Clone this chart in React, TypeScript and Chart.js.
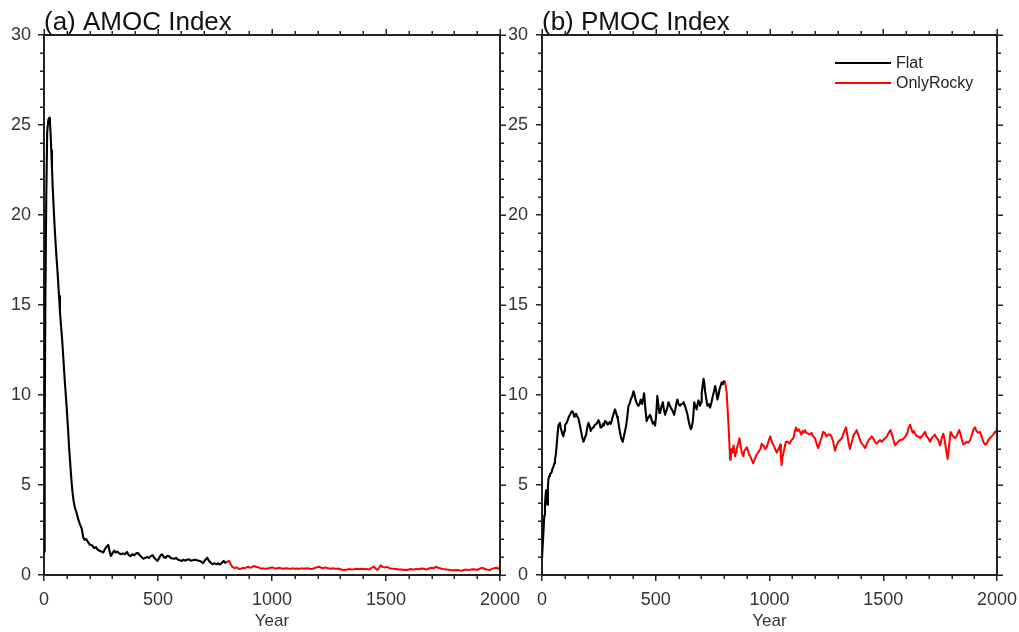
import React, { useEffect, useRef } from "react";
import { Chart, registerables } from "chart.js";

Chart.register(...registerables);

const FONT = "'Liberation Sans', Arial, Helvetica, sans-serif";
const AXIS = "#222222";
const TEXT = "#333333";

// ---- tick definitions ----
const xMajorTicks = [0, 500, 1000, 1500, 2000];
const xMinorTicks = [0, 100, 200, 300, 400, 500, 600, 700, 800, 900, 1000, 1100, 1200, 1300, 1400, 1500, 1600, 1700, 1800, 1900, 2000];
const yMajorTicks = [0, 5, 10, 15, 20, 25, 30];
const yMinorTicks = [0, 1, 2, 3, 4, 5, 6, 7, 8, 9, 10, 11, 12, 13, 14, 15, 16, 17, 18, 19, 20, 21, 22, 23, 24, 25, 26, 27, 28, 29, 30];

const seriesNames = ["Flat", "OnlyRocky"];
const seriesColors = ["#000000", "#ff0000"];
const panelTitles = ["(a) AMOC Index", "(b) PMOC Index"];

// ---- (a) AMOC, Flat ----
const amocFlatYears = [0, 3, 6, 10, 14, 19, 23, 26, 29, 32, 35, 38, 42, 46, 50, 54, 58, 62, 66, 70, 75, 80, 85, 90, 95, 100, 105, 110, 115, 120, 125, 130, 136, 142, 150, 158, 165, 172, 178, 185, 192, 200, 210, 220, 228, 236, 244, 252, 260, 268, 276, 282, 288, 293, 300, 308, 315, 322, 330, 338, 346, 355, 364, 372, 380, 388, 396, 404, 412, 420, 428, 436, 444, 452, 460, 468, 476, 484, 492, 498, 505, 512, 518, 525, 532, 540, 548, 556, 564, 572, 580, 588, 596, 604, 612, 620, 628, 636, 644, 652, 660, 668, 676, 684, 692, 698, 704, 710, 716, 722, 728, 734, 740, 746, 752, 758, 764, 770, 776, 782, 788, 794, 800];
const amocFlatValues = [1.3, 8, 15.3, 21, 24.6, 25.3, 25.4, 25.2, 24.5, 23.6, 22.6, 21.6, 20.5, 19.5, 18.6, 17.8, 17.1, 16.3, 15.5, 14.6, 13.8, 13, 12, 11, 10.1, 9.2, 8.2, 7.1, 6.2, 5.3, 4.6, 4.1, 3.7, 3.5, 3.1, 2.8, 2.6, 2.1, 1.95, 2.0, 1.85, 1.7, 1.65, 1.5, 1.55, 1.4, 1.35, 1.3, 1.25, 1.45, 1.6, 1.67, 1.3, 1.05, 1.2, 1.35, 1.25, 1.3, 1.2, 1.15, 1.2, 1.15, 1.28, 1.1, 1.05, 1.15, 1.1, 1.2, 1.22, 1.1, 1.0, 0.9, 0.95, 1.0, 0.95, 1.05, 1.1, 0.95, 0.85, 0.78, 0.95, 1.1, 1.15, 1.0, 0.95, 1.05, 1.05, 0.95, 0.92, 0.9, 0.95, 0.85, 0.82, 0.78, 0.85, 0.8, 0.85, 0.87, 0.8, 0.82, 0.85, 0.83, 0.8, 0.78, 0.72, 0.66, 0.78, 0.88, 0.96, 0.82, 0.72, 0.65, 0.6, 0.65, 0.62, 0.6, 0.65, 0.58, 0.62, 0.7, 0.78, 0.68, 0.72];

// ---- (a) AMOC, OnlyRocky ----
const amocRockyYears = [800, 806, 812, 818, 824, 830, 836, 842, 850, 858, 864, 872, 880, 888, 894, 900, 908, 916, 924, 932, 940, 948, 955, 962, 970, 978, 986, 994, 1002, 1010, 1020, 1030, 1040, 1050, 1060, 1070, 1080, 1090, 1100, 1110, 1121, 1130, 1140, 1150, 1160, 1170, 1180, 1190, 1200, 1208, 1216, 1225, 1235, 1245, 1258, 1268, 1280, 1290, 1300, 1310, 1318, 1328, 1338, 1348, 1360, 1370, 1380, 1394, 1405, 1415, 1425, 1435, 1447, 1455, 1462, 1470, 1477, 1485, 1495, 1505, 1515, 1525, 1535, 1545, 1555, 1565, 1575, 1583, 1591, 1600, 1610, 1620, 1632, 1645, 1655, 1667, 1677, 1688, 1700, 1710, 1720, 1728, 1738, 1748, 1758, 1768, 1780, 1790, 1800, 1810, 1820, 1833, 1842, 1852, 1862, 1872, 1882, 1892, 1900, 1910, 1924, 1934, 1944, 1955, 1965, 1975, 1985, 1993, 2000];
const amocRockyValues = [0.72, 0.75, 0.78, 0.62, 0.48, 0.42, 0.38, 0.42, 0.38, 0.33, 0.35, 0.4, 0.38, 0.42, 0.46, 0.43, 0.4, 0.47, 0.5, 0.44, 0.42, 0.38, 0.35, 0.37, 0.34, 0.36, 0.38, 0.4, 0.42, 0.38, 0.36, 0.4, 0.37, 0.35, 0.38, 0.36, 0.34, 0.37, 0.35, 0.36, 0.34, 0.37, 0.35, 0.38, 0.36, 0.33, 0.35, 0.4, 0.44, 0.46, 0.4, 0.38, 0.42, 0.37, 0.35, 0.38, 0.34, 0.36, 0.32, 0.29, 0.28, 0.3, 0.33, 0.3, 0.32, 0.35, 0.33, 0.35, 0.32, 0.34, 0.3, 0.38, 0.46, 0.35, 0.28, 0.4, 0.54, 0.45, 0.42, 0.45, 0.38, 0.36, 0.35, 0.33, 0.31, 0.3, 0.29, 0.28, 0.28, 0.31, 0.33, 0.3, 0.34, 0.32, 0.36, 0.35, 0.3, 0.36, 0.4, 0.38, 0.46, 0.4, 0.37, 0.33, 0.32, 0.3, 0.28, 0.27, 0.26, 0.28, 0.26, 0.24, 0.28, 0.3, 0.27, 0.3, 0.32, 0.3, 0.28, 0.35, 0.4, 0.33, 0.3, 0.27, 0.34, 0.38, 0.4, 0.34, 0.46];

// ---- (b) PMOC, Flat ----
const pmocFlatYears = [0, 6, 10, 13, 16, 18, 21, 23, 26, 28, 32, 35, 42, 46, 50, 54, 57, 61, 65, 69, 72, 76, 79, 82, 86, 90, 94, 98, 101, 105, 108, 113, 118, 123, 128, 133, 138, 141, 145, 150, 155, 160, 165, 170, 176, 182, 188, 194, 199, 204, 209, 214, 220, 226, 233, 240, 244, 248, 252, 257, 262, 268, 272, 277, 283, 288, 292, 298, 302, 306, 311, 316, 321, 326, 330, 333, 338, 343, 348, 355, 360, 365, 370, 375, 380, 385, 390, 396, 402, 407, 412, 418, 424, 429, 434, 440, 445, 449, 454, 460, 465, 470, 475, 480, 487, 492, 497, 502, 507, 512, 516, 519, 524, 531, 536, 541, 546, 551, 556, 562, 566, 570, 575, 581, 586, 590, 595, 600, 607, 612, 617, 622, 628, 633, 638, 644, 649, 654, 658, 663, 666, 669, 674, 680, 684, 688, 692, 695, 699, 702, 706, 710, 713, 717, 722, 727, 732, 739, 745, 751, 756, 761, 766, 771, 776, 780, 785, 790, 795, 800];
const pmocFlatValues = [0.93, 2.3, 3.3, 3.9, 4.5, 4.7, 4.3, 3.9, 4.9, 5.3, 5.5, 5.6, 5.7, 5.9, 6.0, 6.2, 6.4, 6.7, 7.3, 7.9, 8.3, 8.4, 8.45, 8.2, 8.0, 7.8, 7.7, 8.0, 8.3, 8.4, 8.45, 8.6, 8.8, 8.9, 9.05, 9.1, 9.0, 8.8, 8.9, 8.95, 8.8, 8.7, 8.4, 8.1, 7.7, 7.4, 7.6, 7.8, 8.2, 8.45, 8.3, 8.0, 8.15, 8.2, 8.35, 8.4, 8.5, 8.6, 8.5, 8.2, 8.2, 8.4, 8.3, 8.55, 8.5, 8.35, 8.4, 8.5, 8.4, 8.55, 8.8, 9.0, 9.2, 9.0, 8.8, 8.7, 8.3, 7.9, 7.6, 7.4, 7.7, 8.0, 8.3, 8.8, 9.4, 9.5, 9.75, 9.9, 10.2, 10.0, 9.7, 9.5, 9.4, 9.5, 9.75, 9.5, 9.8, 10.1, 9.3, 8.55, 8.7, 8.8, 8.9, 8.7, 8.4, 8.5, 8.3, 8.9, 9.95, 9.4, 9.0, 9.0, 9.3, 9.6, 9.2, 8.9, 9.1, 9.3, 9.6, 9.4, 9.3, 9.2, 9.1, 8.9, 9.2, 9.5, 9.75, 9.5, 9.4, 9.5, 9.5, 9.6, 9.4, 9.2, 9.0, 8.6, 8.3, 8.1, 8.2, 8.55, 9.0, 9.6, 9.4, 9.2, 9.5, 9.7, 9.6, 9.4, 9.6, 10.1, 10.5, 10.9, 10.7, 10.2, 9.8, 9.4, 9.5, 9.3, 9.6, 9.95, 10.2, 10.5, 10.2, 9.75, 10.0, 10.3, 10.5, 10.7, 10.6, 10.8];

// ---- (b) PMOC, OnlyRocky ----
const pmocRockyYears = [800, 805, 812, 816, 820, 824, 827, 830, 834, 838, 842, 846, 849, 853, 856, 862, 868, 873, 878, 885, 889, 895, 900, 906, 910, 915, 922, 928, 934, 940, 944, 950, 955, 960, 966, 970, 974, 980, 988, 995, 1003, 1010, 1018, 1025, 1032, 1040, 1047, 1050, 1053, 1058, 1065, 1072, 1080, 1088, 1097, 1105, 1110, 1116, 1122, 1128, 1134, 1140, 1145, 1150, 1156, 1162, 1170, 1178, 1185, 1192, 1200, 1207, 1214, 1220, 1228, 1236, 1243, 1250, 1258, 1266, 1272, 1280, 1288, 1295, 1302, 1310, 1318, 1326, 1336, 1342, 1348, 1354, 1362, 1370, 1377, 1383, 1390, 1398, 1405, 1413, 1420, 1428, 1436, 1443, 1449, 1456, 1463, 1471, 1478, 1486, 1493, 1500, 1508, 1516, 1524, 1532, 1538, 1545, 1552, 1558, 1565, 1573, 1581, 1590, 1598, 1606, 1612, 1618, 1624, 1630, 1635, 1640, 1648, 1655, 1662, 1668, 1675, 1684, 1690, 1698, 1706, 1712, 1720, 1727, 1735, 1742, 1750, 1757, 1764, 1770, 1776, 1783, 1788, 1796, 1802, 1808, 1815, 1822, 1828, 1834, 1840, 1846, 1852, 1858, 1866, 1874, 1882, 1890, 1897, 1903, 1910, 1917, 1925, 1932, 1940, 1947, 1955, 1962, 1969, 1976, 1984, 1991, 1996, 2000];
const pmocRockyValues = [10.8, 10.7, 10.1, 9.2, 8.3, 7.2, 6.4, 6.6, 7.0, 6.8, 7.2, 6.9, 6.6, 6.8, 7.0, 7.3, 7.6, 7.2, 6.8, 6.6, 6.9, 7.0, 7.1, 6.9, 6.7, 6.6, 6.4, 6.2, 6.4, 6.6, 6.7, 6.8, 6.9, 7.0, 7.3, 7.2, 7.2, 7.0, 7.1, 7.4, 7.7, 7.4, 7.2, 7.0, 6.8, 7.0, 7.25, 6.6, 6.1, 6.6, 7.0, 7.4, 7.4, 7.3, 7.5, 7.6, 7.9, 8.2, 8.0, 8.1, 7.95, 7.8, 8.0, 7.9, 8.05, 7.9, 7.85, 7.8, 7.9, 7.7, 7.6, 7.3, 7.05, 7.3, 7.6, 7.95, 7.9, 7.7, 7.8, 7.8, 7.7, 7.4, 6.9, 7.2, 7.4, 7.5, 7.6, 7.9, 8.2, 7.8, 7.3, 7.0, 7.4, 7.8, 7.9, 8.05, 7.8, 7.5, 7.3, 7.2, 7.05, 7.3, 7.5, 7.6, 7.7, 7.6, 7.4, 7.3, 7.4, 7.5, 7.4, 7.5, 7.6, 7.7, 7.9, 8.05, 7.8, 7.5, 7.2, 7.3, 7.4, 7.5, 7.5, 7.6, 7.7, 7.9, 8.2, 8.35, 8.1, 7.9, 8.0, 7.85, 7.7, 7.7, 7.6, 7.7, 7.8, 7.95, 7.7, 7.6, 7.4, 7.6, 7.7, 7.8, 7.6, 7.5, 7.2, 7.6, 7.85, 7.5, 7.0, 6.45, 7.0, 7.95, 7.8, 7.7, 7.6, 7.7, 7.9, 8.05, 7.8, 7.5, 7.25, 7.3, 7.4, 7.35, 7.5, 7.8, 8.1, 8.2, 8.0, 7.9, 7.95, 7.7, 7.4, 7.25, 7.3, 7.5, 7.6, 7.7, 7.8, 7.95, 7.9, 8.2];

function toPoints(xs: number[], ys: number[]) {
  return xs.map((x, i) => ({ x, y: ys[i] }));
}

function makePlugin(title: string, showLegend: boolean) {
  return {
    id: "frameAndDecor",
    afterDraw(chart: any) {
      const { ctx, chartArea: a } = chart;
      const xs = chart.scales.x;
      const ys = chart.scales.y;
      ctx.save();
      // top & right frame
      ctx.strokeStyle = AXIS;
      ctx.lineWidth = 2;
      ctx.beginPath();
      ctx.moveTo(a.left - 1, a.top);
      ctx.lineTo(a.right + 1, a.top);
      ctx.moveTo(a.right, a.top - 1);
      ctx.lineTo(a.right, a.bottom + 1);
      ctx.stroke();
      // ticks
      ctx.lineWidth = 1.5;
      ctx.beginPath();
      for (const v of xMinorTicks) {
        const px = Math.round(xs.getPixelForValue(v)) + 0.25;
        const major = xMajorTicks.includes(v);
        if (!major) {
          ctx.moveTo(px, a.bottom);
          ctx.lineTo(px, a.bottom + 4);
        }
        ctx.moveTo(px, a.top);
        ctx.lineTo(px, a.top - (major ? 6 : 4));
      }
      for (const v of yMinorTicks) {
        const py = Math.round(ys.getPixelForValue(v)) + 0.25;
        const major = yMajorTicks.includes(v);
        if (!major) {
          ctx.moveTo(a.left, py);
          ctx.lineTo(a.left - 4, py);
        }
        ctx.moveTo(a.right, py);
        ctx.lineTo(a.right + (major ? 6 : 4), py);
      }
      ctx.stroke();
      // panel title
      ctx.fillStyle = "#111111";
      ctx.font = `26px ${FONT}`;
      ctx.textAlign = "left";
      ctx.textBaseline = "alphabetic";
      ctx.fillText(title, a.left, 30);
      // legend
      if (showLegend) {
        ctx.font = `16px ${FONT}`;
        ctx.textBaseline = "middle";
        const lx = a.left + 293;
        const ly = [63, 83];
        seriesNames.forEach((name, i) => {
          ctx.strokeStyle = seriesColors[i];
          ctx.lineWidth = 1.8;
          ctx.beginPath();
          ctx.moveTo(lx, ly[i]);
          ctx.lineTo(lx + 56, ly[i]);
          ctx.stroke();
          ctx.fillStyle = "#222222";
          ctx.fillText(name, lx + 61, ly[i] + 1);
        });
      }
      ctx.restore();
    },
  };
}

function makeConfig(
  flat: { x: number; y: number }[],
  rocky: { x: number; y: number }[],
  title: string,
  showLegend: boolean,
  yAxisWidth: number,
  rightPad: number,
  yLabelPad: number
): any {
  return {
    type: "line",
    data: {
      datasets: [
        { label: seriesNames[0], data: flat, borderColor: seriesColors[0], borderWidth: 2.1, borderJoinStyle: "round", pointRadius: 0, tension: 0, fill: false },
        { label: seriesNames[1], data: rocky, borderColor: seriesColors[1], borderWidth: 2, borderJoinStyle: "round", pointRadius: 0, tension: 0, fill: false },
      ],
    },
    options: {
      animation: false,
      responsive: false,
      maintainAspectRatio: false,
      devicePixelRatio: 1,
      parsing: false,
      layout: { padding: { top: 35, right: rightPad, left: 0, bottom: 0 } },
      plugins: { legend: { display: false }, tooltip: { enabled: false }, title: { display: false } },
      scales: {
        x: {
          type: "linear",
          position: "bottom",
          min: 0,
          max: 2000,
          ticks: {
            stepSize: 500,
            color: TEXT,
            font: { family: FONT, size: 18 },
            padding: 8,
            maxRotation: 0,
            autoSkip: false,
            callback: (v: number) => String(v),
          },
          grid: { drawOnChartArea: false, color: AXIS, lineWidth: 1.5, tickLength: 6 },
          border: { display: true, color: AXIS, width: 2 },
          title: { display: true, text: "Year", color: TEXT, font: { family: FONT, size: 17 }, padding: 0 },
          afterFit: (s: any) => {
            s.height = 57;
            s.paddingLeft = 0;
            s.paddingRight = 0;
          },
        },
        y: {
          type: "linear",
          position: "left",
          min: 0,
          max: 30,
          ticks: { stepSize: 5, color: TEXT, font: { family: FONT, size: 18 }, padding: yLabelPad, callback: (v: number) => String(v) },
          grid: { drawOnChartArea: false, color: AXIS, lineWidth: 1.5, tickLength: 6 },
          border: { display: true, color: AXIS, width: 2 },
          afterFit: (s: any) => {
            s.width = yAxisWidth;
            s.paddingTop = 0;
            s.paddingBottom = 0;
          },
        },
      },
    },
    plugins: [makePlugin(title, showLegend)],
  };
}

export default function App() {
  const refA = useRef<HTMLCanvasElement>(null);
  const refB = useRef<HTMLCanvasElement>(null);

  useEffect(() => {
    Chart.defaults.font.family = FONT;
    const chartA = new Chart(
      refA.current as HTMLCanvasElement,
      makeConfig(toPoints(amocFlatYears, amocFlatValues), toPoints(amocRockyYears, amocRockyValues), panelTitles[0], false, 44, 20, 7)
    );
    const chartB = new Chart(
      refB.current as HTMLCanvasElement,
      makeConfig(toPoints(pmocFlatYears, pmocFlatValues), toPoints(pmocRockyYears, pmocRockyValues), panelTitles[1], true, 42, 22, 8)
    );
    return () => {
      chartA.destroy();
      chartB.destroy();
    };
  }, []);

  return (
    <div style={{ position: "absolute", left: 0, top: 0, width: 1019, height: 632, background: "#ffffff", overflow: "hidden" }}>
      <canvas ref={refA} width={520} height={632} style={{ position: "absolute", left: 0, top: 0, width: 520, height: 632 }} />
      <canvas ref={refB} width={519} height={632} style={{ position: "absolute", left: 500, top: 0, width: 519, height: 632 }} />
    </div>
  );
}
